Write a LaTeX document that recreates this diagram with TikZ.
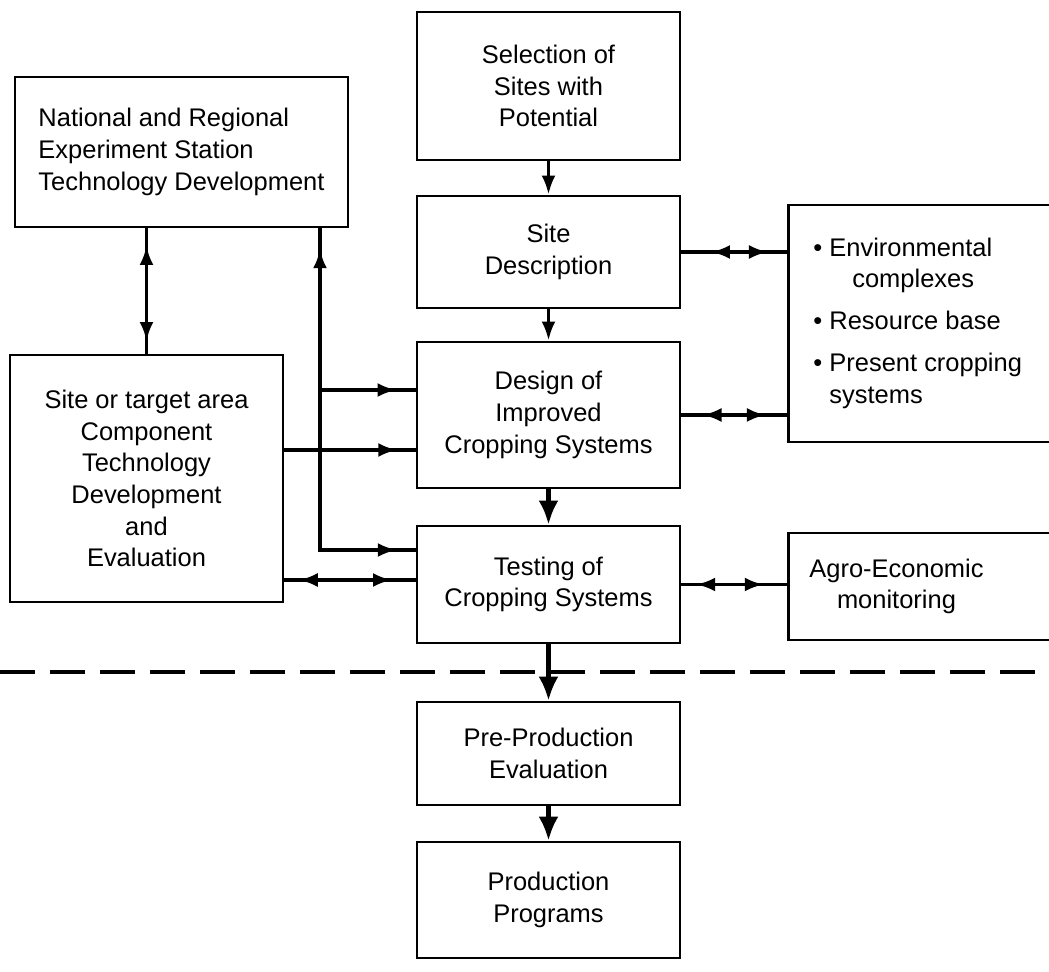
\documentclass[tikz,border=0pt]{standalone}
\usepackage{fontspec}
\setmainfont{Liberation Sans}
\usetikzlibrary{arrows.meta,decorations.markings}

\begin{document}
\begin{tikzpicture}[x=0.02cm, y=-0.02cm,
	box/.style={draw, line width=1.6pt, align=center, inner sep=4pt, font=\fontsize{14.5}{18}\selectfont},
	link/.style={line width=2pt},
	tip/.style={-{Latex[length=0.38cm,width=0.28cm]}},
	bigtip/.style={-{Latex[length=0.48cm,width=0.4cm]}},
	heads/.style 2 args={postaction={decorate}, decoration={markings,
		mark=at position #1 with {\arrowreversed{Latex[length=0.38cm,width=0.28cm]}},
		mark=at position #2 with {\arrow{Latex[length=0.38cm,width=0.28cm]}}}},
	headat/.style={postaction={decorate}, decoration={markings,
		mark=at position #1 with {\arrow{Latex[length=0.38cm,width=0.28cm]}}}}]
	\clip (0,0) rectangle (1049,972);

	% main column
	\node[box, minimum width=5.26cm, minimum height=2.96cm] (sel) at (548.5,86) {Selection of\\Sites with\\Potential};
	\node[box, minimum width=5.26cm, minimum height=2.24cm] (desc) at (548.5,252) {Site\\Description};
	\node[box, minimum width=5.26cm, minimum height=2.92cm] (design) at (548.5,415) {Design of\\Improved\\Cropping Systems};
	\node[box, minimum width=5.26cm, minimum height=2.34cm] (test) at (548.5,584.5) {Testing of\\Cropping Systems};
	\node[box, minimum width=5.26cm, minimum height=2.06cm] (preprod) at (548.5,753.5) {Pre-Production\\Evaluation};
	\node[box, minimum width=5.26cm, minimum height=2.32cm] (prod) at (548.5,900) {Production\\Programs};

	% left column
	\node[box, align=left, minimum width=6.66cm, minimum height=3cm] (nat) at (181.5,152) {National and Regional\\Experiment Station\\Technology Development};
	\node[box, minimum width=5.46cm, minimum height=4.94cm] (tgt) at (146.5,478.5) {Site or target area\\Component\\Technology\\Development\\and\\Evaluation};

	% right column, running off the edge
	\node[box, anchor=west, minimum height=4.74cm, inner xsep=0.5cm] (env) at (787,323.5) {\begin{tabular}{@{}l@{}}
		\textbullet\ Environmental\\
		\phantom{\textbullet\ }\hspace*{0.9em}complexes\\[6pt]
		\textbullet\ Resource base\\[6pt]
		\textbullet\ Present cropping\\
		\phantom{\textbullet\ }systems
	\end{tabular}\hspace*{3cm}};
	\node[box, anchor=west, minimum height=2.14cm, inner xsep=0.42cm] (agro) at (787,586.5) {\begin{tabular}{@{}c@{}}Agro-Economic\\monitoring\end{tabular}\hspace*{3cm}};

	\draw[line width=1.8pt, dash pattern=on 0.7cm off 0.3cm] (0,672) -- (1049,672);

	% down the column
	\draw[link, tip] (sel) -- (desc);
	\draw[link, tip] (desc) -- (design);
	\draw[link, line width=2.6pt, bigtip] (design) -- (test);
	\draw[link, line width=2.4pt, bigtip] (test) -- (preprod);
	\draw[link, line width=2.4pt, bigtip] (preprod) -- (prod);

	% two way links to the right
	\draw[link, heads={0.28}{0.82}] (desc.east) -- (desc.east -| env.west);
	\draw[link, heads={0.2}{0.8}] (design.east) -- (design.east -| env.west);
	\draw[link, heads={0.14}{0.78}] (test.east) -- (test.east -| agro.west);

	% left side links
	\coordinate (fa) at (320,390);
	\coordinate (fb) at (320,450);
	\coordinate (fc) at (320,550);
	\coordinate (fd) at (320,580);
	\draw[link, heads={0.14}{0.9}] (nat.south -| tgt.north) -- (tgt.north);
	\draw[link, heads={0.05}{0.955}] (nat.south -| fc) -- (fc) -- (fc -| test.west);
	\draw[link, headat=0.8] (fa) -- (fa -| design.west);
	\draw[link, headat=0.86] (tgt.east |- fb) -- (fb -| design.west);
	\draw[link, heads={0.18}{0.89}] (test.west |- fd) -- (tgt.east |- fd);
\end{tikzpicture}
\end{document}
